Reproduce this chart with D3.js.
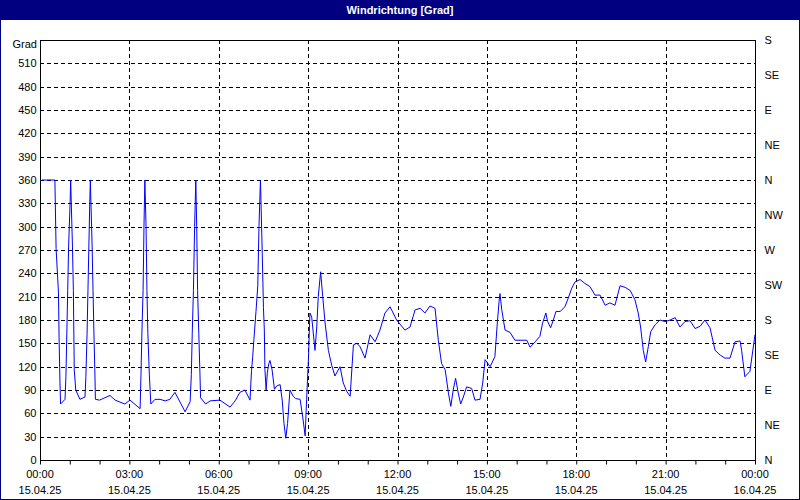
<!DOCTYPE html>
<html><head><meta charset="utf-8">
<script src="https://cdn.jsdelivr.net/npm/d3@7"></script>
<style>body{margin:0;background:#fff}svg{display:block;font-family:"Liberation Sans",Arial,sans-serif;font-size:11px}</style>
</head><body><svg id="c" width="800" height="500"></svg>
<script>
var hours = [0.06,0.50,0.54,0.62,0.64,0.67,0.69,0.84,0.87,0.90,0.93,0.96,1.01,1.03,1.05,1.09,1.12,1.15,1.20,1.34,1.51,
 1.54,1.58,1.61,1.64,1.67,1.69,1.71,1.75,1.78,1.81,1.84,1.86,2.00,2.35,2.52,2.85,3.02,3.36,
 3.39,3.42,3.46,3.49,3.52,3.56,3.59,3.62,3.67,3.72,3.86,4.03,4.20,4.36,4.53,4.87,5.04,
 5.08,5.11,5.15,5.19,5.23,5.26,5.29,5.33,5.37,5.39,5.56,5.71,6.04,6.38,6.55,6.71,6.88,7.05,
 7.10,7.14,7.18,7.25,7.31,7.35,7.40,7.46,7.50,7.53,7.55,7.59,7.63,7.68,7.72,7.79,7.87,7.94,8.06,
 8.13,8.19,8.25,8.31,8.39,8.50,8.58,8.73,8.82,8.90,8.95,9.01,
 9.06,9.12,9.23,9.29,9.34,9.42,9.49,9.57,9.68,9.79,9.90,10.07,10.18,10.30,10.41,10.52,10.63,10.74,10.91,
 11.08,11.25,11.41,11.58,11.75,11.97,12.25,12.42,12.59,12.76,12.92,13.09,13.26,13.37,13.48,13.60,13.71,
 13.79,13.87,13.95,14.04,14.12,14.21,14.32,14.49,14.60,14.77,14.86,14.94,15.11,15.27,15.35,15.41,15.44,
 15.50,15.61,15.78,15.94,16.34,16.45,16.62,16.78,16.87,16.98,17.04,17.14,17.23,17.32,17.46,17.62,17.73,
 17.85,17.96,18.13,18.29,18.46,18.63,18.80,18.97,19.13,19.30,19.47,19.64,19.81,19.97,20.08,20.16,20.25,
 20.33,20.42,20.50,20.65,20.81,20.98,21.15,21.32,21.48,21.65,21.82,21.99,22.16,22.32,22.49,22.66,22.83,
 22.99,23.16,23.33,23.50,23.55,23.66,23.83,24.00];
var degrees = [360,360,272,215,158,100,72,78,107,163,218,274,330,360,330,274,218,116,90,78,81,
 107,163,218,274,330,360,330,274,218,163,116,78,77,83,77,72,77,66,
 110,163,218,300,360,300,218,163,110,72,78,78,76,78,87,62,75,
 110,163,218,300,360,300,218,163,110,80,72,76,77,68,76,87,90,77,
 115,133,155,191,224,300,360,266,196,167,116,90,112,124,128,116,91,95,97,
 77,47,28,47,90,82,79,78,55,31,78,130,
 189,184,141,171,210,242,210,176,141,122,108,120,99,88,82,148,150,146,131,
 161,152,167,189,197,180,167,171,193,195,189,198,195,154,124,116,86,
 69,90,105,86,72,81,94,92,77,78,99,129,120,133,176,204,214,
 193,167,164,154,154,145,152,159,176,189,178,170,180,191,191,197,208,
 221,229,232,227,223,212,212,199,202,199,224,222,218,206,189,171,141,
 126,146,165,174,180,178,180,183,171,178,179,169,172,180,170,141,135,
 131,131,152,153,141,107,114,161];
var timeLabels = ["00:00","03:00","06:00","09:00","12:00","15:00","18:00","21:00","00:00"];
var dateLabels = ["15.04.25","15.04.25","15.04.25","15.04.25","15.04.25","15.04.25","15.04.25","15.04.25","16.04.25"];
var compass = ["N","NE","E","SE","S","SW","W","NW","N","NE","E","SE","S"];

var svg = d3.select("#c");
var pLeft = 40, pRight = 755, pTop = 40, pBottom = 460;
var x = d3.scaleLinear().domain([0, 24]).range([pLeft, pRight]);
var y = d3.scaleLinear().domain([0, 540]).range([pBottom, pTop]);

// window frame + title bar
svg.append("rect").attr("x", 0.5).attr("y", 0.5).attr("width", 799).attr("height", 499).attr("fill", "#fff").attr("stroke", "#000080");
svg.append("rect").attr("x", 0).attr("y", 0).attr("width", 800).attr("height", 20).attr("fill", "#000080");
svg.append("text").attr("x", 400).attr("y", 14).attr("text-anchor", "middle").attr("fill", "#fff")
	.style("font-weight", "bold").text("Windrichtung [Grad]");

// grid
var g = svg.append("g");
g.selectAll("line.h").data(d3.range(30, 540, 30)).enter().append("line")
	.attr("x1", pLeft).attr("x2", pRight).attr("y1", d => Math.round(y(d)) + 0.5).attr("y2", d => Math.round(y(d)) + 0.5)
	.attr("stroke", "#000").attr("stroke-dasharray", "4,3");
g.selectAll("line.v").data(d3.range(3, 24, 3)).enter().append("line")
	.attr("y1", pTop).attr("y2", pBottom).attr("x1", d => Math.round(x(d)) + 0.5).attr("x2", d => Math.round(x(d)) + 0.5)
	.attr("stroke", "#000").attr("stroke-dasharray", "4,3");

// data line
svg.append("path").datum(hours.map((h, i) => [h, degrees[i]]))
	.attr("fill", "none").attr("stroke", "#0000ff").attr("stroke-width", 1)
	.attr("d", d3.line().x(d => x(d[0])).y(d => y(d[1])));

// frame
svg.append("rect").attr("x", pLeft + 0.5).attr("y", pTop + 0.5).attr("width", pRight - pLeft).attr("height", pBottom - pTop)
	.attr("fill", "none").attr("stroke", "#000");

// bottom axis
var xa = svg.append("g").attr("transform", "translate(0," + (pBottom + 0.5) + ")")
	.call(d3.axisBottom(x).tickValues(d3.range(0, 25, 1)).tickSize(4).tickFormat(""));
xa.select(".domain").remove();
svg.selectAll("text.tl").data(timeLabels).enter().append("text")
	.attr("x", (d, i) => x(i * 3)).attr("y", 478).attr("text-anchor", "middle").text(d => d);
svg.selectAll("text.dl").data(dateLabels).enter().append("text")
	.attr("x", (d, i) => x(i * 3)).attr("y", 494).attr("text-anchor", "middle").text(d => d);

// left axis
var ya = svg.append("g").attr("transform", "translate(" + (pLeft + 0.5) + ",0)")
	.call(d3.axisLeft(y).tickValues(d3.range(0, 540, 30)).tickSize(0).tickPadding(4));
ya.select(".domain").remove();
ya.selectAll("text").style("font-family", "Liberation Sans, Arial, sans-serif").style("font-size", "11px").attr("fill", "#000");
svg.append("text").attr("x", 37).attr("y", 48).attr("text-anchor", "end").text("Grad");

// right compass axis
var ra = svg.append("g").attr("transform", "translate(" + (pRight + 0.5) + ",0)")
	.call(d3.axisRight(y).tickValues(d3.range(0, 541, 45)).tickSize(0).tickPadding(9).tickFormat((d, i) => compass[i]));
ra.select(".domain").remove();
ra.selectAll("text").style("font-family", "Liberation Sans, Arial, sans-serif").style("font-size", "11px").attr("fill", "#000");
</script></body></html>
